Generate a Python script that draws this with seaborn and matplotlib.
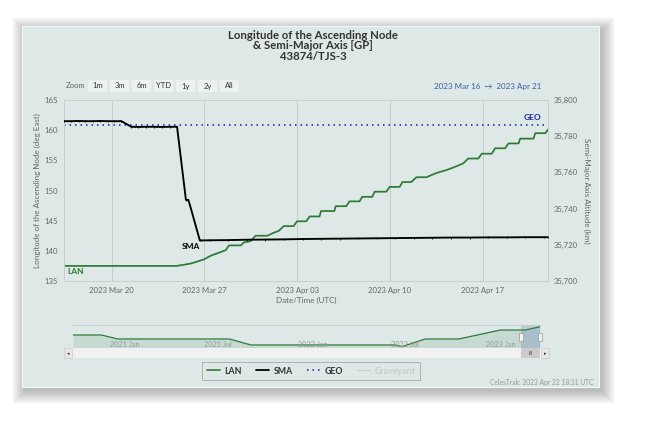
import numpy as np
import pandas as pd
import matplotlib
matplotlib.use("Agg")
import matplotlib.pyplot as plt
import matplotlib.dates as mdates
import matplotlib.transforms as mtransforms
from matplotlib.patches import Rectangle
from matplotlib.lines import Line2D
from matplotlib.ticker import FuncFormatter
import seaborn as sns

sns.set_theme(style="white")
plt.rcParams['font.family'] = ['Lato', 'DejaVu Sans']

# ---------------- data ----------------
start = pd.Timestamp("2023-03-16")

# LAN (deg East), days after 2023-03-16 00:00 UTC
lan_days = [0.4, 8.9, 9.98, 10.7, 10.97, 11.48, 11.85, 12.6, 12.85, 13.73,
            13.98, 14.48, 14.85, 15.73, 16.23, 16.6, 16.98, 17.73, 17.98, 18.68,
            18.93, 19.68, 19.8, 20.8, 20.9, 21.7, 21.94, 22.7, 22.9, 23.66,
            23.84, 24.72, 24.97, 25.73, 25.93, 26.6, 27.0, 27.75, 28.5, 29.27,
            29.77, 30.53, 30.9, 31.67, 31.92, 32.68, 32.93, 33.69, 33.94, 34.7,
            34.82, 35.83, 35.96, 36.72, 36.92]
lan_deg = [137.5, 137.5, 137.9, 138.4, 138.6, 139.2, 139.5, 140.1, 140.9, 140.9,
           141.4, 141.6, 142.5, 142.5, 143.0, 143.3, 144.1, 144.1, 144.9, 144.9,
           145.7, 145.7, 146.6, 146.6, 147.4, 147.4, 148.2, 148.2, 148.95, 148.95,
           149.8, 149.8, 150.6, 150.6, 151.4, 151.4, 152.2, 152.2, 152.9, 153.4,
           153.8, 154.5, 155.3, 155.3, 156.1, 156.1, 157.0, 157.0, 157.8, 157.8,
           158.6, 158.6, 159.5, 159.5, 160.1]

# SMA altitude (km)
sma_days = [0.4, 0.9, 1.5, 2.0, 2.6, 3.1, 3.7, 4.2, 4.73,
            5.48, 6.0, 6.6, 7.2, 7.8, 8.4, 8.93,
            9.6, 9.78, 9.9, 10.65,
            11.4, 12.8, 14.2, 15.6, 17.0, 18.4, 19.8, 21.2, 22.6, 24.0,
            25.4, 26.8, 28.2, 29.6, 31.0, 32.4, 33.8, 35.2, 36.6, 36.92]
sma_km = [35788.3, 35788.3, 35788.4, 35788.3, 35788.3, 35788.4, 35788.3, 35788.3, 35788.3,
          35785.2, 35785.1, 35785.2, 35785.2, 35785.1, 35785.2, 35785.2,
          35744.8, 35744.8, 35742.0, 35722.4,
          35722.5, 35722.6, 35722.8, 35722.9, 35723.0, 35723.2, 35723.3, 35723.4, 35723.5, 35723.6,
          35723.7, 35723.8, 35723.9, 35724.0, 35724.0, 35724.1, 35724.1, 35724.2, 35724.2, 35724.2]

geo_km = 35786
view_days = [0.4, 36.92]

x_ticks = ["2023-03-20", "2023-03-27", "2023-04-03", "2023-04-10", "2023-04-17"]
lan_ticks = [135, 140, 145, 150, 155, 160, 165]
sma_ticks = [35700, 35720, 35740, 35760, 35780, 35800]

# navigator (long term LAN)
nav_dates = ["2020-10-26", "2020-12-20", "2021-01-21", "2021-08-26", "2021-10-07",
             "2022-07-15", "2022-07-27", "2022-09-11", "2022-11-15", "2023-02-04",
             "2023-03-25", "2023-04-22"]
nav_deg = [103.3, 103.3, 75.9, 75.9, 34.8, 34.8, 23.1, 75.9, 75.9, 137.5, 137.5, 160.1]
nav_ticks = ["2021-01-01", "2021-07-01", "2022-01-01", "2022-07-01", "2023-01-01"]
nav_labels = ["2021 Jan", "2021 Jul", "2022 Jan", "2022 Jul", "2023 Jan"]

zoom_buttons = ["1m", "3m", "6m", "YTD", "1y", "2y", "All"]
legend_names = ["LAN", "SMA", "GEO", "Graveyard"]

green = "#2e7a36"
navy = "#1f1f9a"
grey_txt = "#666666"
card_bg = "#dde8e7"

W, H = 645, 429
def fx(px):
    return px / W
def fy(py):
    return 1 - py / H

fig = plt.figure(figsize=(6.45, 4.29), dpi=100)
fig.patch.set_facecolor("white")

# card with soft shadow
for i in range(14):
    fig.patches.append(Rectangle((fx(22 + 3 - i), fy(387 + 4 + i)), (577 + 2 * i) / W, (361 + 2 * i) / H,
                                 transform=fig.transFigure, facecolor="black", edgecolor="none",
                                 alpha=0.02, zorder=-5))
fig.patches.append(Rectangle((fx(22), fy(387)), 577 / W, 361 / H, transform=fig.transFigure,
                             facecolor=card_bg, edgecolor="#f3f7f7", lw=0.8, zorder=-4))

# ---------------- main chart ----------------
ax = fig.add_axes([fx(64), fy(281), (548 - 64) / W, (281 - 100) / H])
ax.set_facecolor("none")

lan_df = pd.DataFrame({"time": start + pd.to_timedelta(lan_days, unit="D"), "deg": lan_deg})
sma_df = pd.DataFrame({"time": start + pd.to_timedelta(sma_days, unit="D"), "km": sma_km})

sns.lineplot(data=lan_df, x="time", y="deg", ax=ax, color=green, lw=1.25,
             estimator=None, sort=False, zorder=3)
ax.set_ylim(135, 165)
ax.set_yticks(lan_ticks)
ax.set_xlim(start + pd.Timedelta(days=view_days[0]), start + pd.Timedelta(days=view_days[1]))
ax.set_xticks(pd.to_datetime(x_ticks))
ax.xaxis.set_major_formatter(mdates.DateFormatter("%Y %b %d"))
ax.grid(axis="x", color="#c3cdcd", lw=0.7)
ax.grid(axis="y", visible=False)

ax2 = ax.twinx()
sns.lineplot(data=sma_df, x="time", y="km", ax=ax2, color="black", lw=1.35,
             marker="|", markersize=1.8, markeredgewidth=0.6, markeredgecolor="black",
             estimator=None, sort=False, zorder=3)
ax2.axhline(geo_km, color=navy, ls=(0, (1, 2.6)), lw=1.1, zorder=2)
ax2.set_ylim(35700, 35800)
ax2.set_yticks(sma_ticks)
ax2.yaxis.set_major_formatter(FuncFormatter(lambda v, p: f"{v:,.0f}"))
ax2.grid(False)

for a in (ax, ax2):
    for s in a.spines.values():
        s.set_color("#c6d0d0")
        s.set_linewidth(0.7)
ax.tick_params(axis="both", length=0, labelsize=5.6, labelcolor=grey_txt)
ax.tick_params(axis="x", pad=4.5)
ax.tick_params(axis="y", pad=4.5)
ax2.tick_params(axis="y", length=0, labelsize=5.6, labelcolor=grey_txt, pad=4)

ax.set_xlabel("Date/Time (UTC)", fontsize=5.8, color=grey_txt, va="center")
ax.xaxis.set_label_coords(0.5, (281 - 300) / 181)
ax.set_ylabel("Longitude of the Ascending Node (deg East)", fontsize=5.8, color=grey_txt, va="center")
ax.yaxis.set_label_coords((37 - 64) / 484, 0.5)
ax2.set_ylabel("Semi-Major Axis Altitude (km)", fontsize=5.8, color=grey_txt, va="center", rotation=270)
ax2.yaxis.set_label_coords((587 - 64) / 484, 0.5)

ax.text(0.262, 0.188, "SMA", transform=ax.transAxes, fontsize=6, fontweight="bold",
        color="black", ha="center", va="center")
ax.text(0.969, 0.906, "GEO", transform=ax.transAxes, fontsize=6, fontweight="bold",
        color=navy, ha="center", va="center")
ax.text(0.008, 0.05, "LAN", transform=ax.transAxes, fontsize=6, fontweight="bold",
        color=green, ha="left", va="center")

# ---------------- title & range selector ----------------
title_lines = ["Longitude of the Ascending Node", "& Semi-Major Axis [GP]", "43874/TJS-3"]
for line, base in zip(title_lines, [38.7, 49.2, 59.8]):
    fig.text(fx(313), fy(base), line, ha="center", va="baseline", fontsize=8.2,
             fontweight="bold", color="#333333")

fig.text(fx(66), fy(86), "Zoom", ha="left", va="center", fontsize=5.5, color=grey_txt)
for i, b in enumerate(zoom_buttons):
    x0 = 88 + 22 * i
    fig.patches.append(Rectangle((fx(x0), fy(92)), 19 / W, 12 / H, transform=fig.transFigure,
                                 facecolor="#ecf2f2", edgecolor="none", zorder=1))
    fig.text(fx(x0 + 9.5), fy(86), b, ha="center", va="center", fontsize=5.5, color="#333333")

fig.text(fx(541), fy(86), "2023 Mar 16  \u2192  2023 Apr 21", ha="right", va="center",
         fontsize=5.8, color="#3a5ea8")

# ---------------- navigator ----------------
nav = fig.add_axes([fx(73), fy(348), (540 - 73) / W, (348 - 325) / H])
nav.set_facecolor("none")
nav_df = pd.DataFrame({"date": pd.to_datetime(nav_dates), "deg": nav_deg})
nav_lo, nav_hi = 14, 172
nav.fill_between(nav_df["date"], nav_df["deg"], nav_lo, color=green, alpha=0.12, lw=0)
sns.lineplot(data=nav_df, x="date", y="deg", ax=nav, color=green, lw=0.9,
             estimator=None, sort=False)
nav.set_xlim(nav_df["date"].iloc[0], nav_df["date"].iloc[-1])
nav.set_ylim(nav_lo, nav_hi)
nav.set_xticks([])
nav.set_yticks([])
nav.set_xlabel("")
nav.set_ylabel("")
for k, s in nav.spines.items():
    s.set_visible(k == "top")
nav.spines["top"].set_color("#c6d0d0")
nav.spines["top"].set_linewidth(0.7)

blend = mtransforms.blended_transform_factory(nav.transData, nav.transAxes)
lab_tr = mtransforms.offset_copy(blend, fig=fig, x=3, y=0, units="dots")
for d, lab in zip(pd.to_datetime(nav_ticks), nav_labels):
    nav.text(d, 0.17, lab, transform=lab_tr, ha="left", va="center", fontsize=5.3,
             color="#999999")

sel0 = start + pd.Timedelta(days=view_days[0])
sel1 = start + pd.Timedelta(days=view_days[1])
nav.axvspan(sel0, sel1, color="#6685c2", alpha=0.3, lw=0)

# scrollbar
nav.add_patch(Rectangle((-0.02, -0.45), 1.04, 0.45, transform=nav.transAxes,
                        facecolor="#f0f2f2", edgecolor="none", clip_on=False))
nav.add_patch(Rectangle((-0.019, -0.43), 0.017, 0.41, transform=nav.transAxes,
                        facecolor="#e6e8e8", edgecolor="#cccccc", lw=0.5, clip_on=False))
nav.add_patch(Rectangle((1.003, -0.43), 0.017, 0.41, transform=nav.transAxes,
                        facecolor="#e6e8e8", edgecolor="#cccccc", lw=0.5, clip_on=False))
nav.text(-0.0105, -0.225, "\u25c2", transform=nav.transAxes, ha="center", va="center",
         fontsize=3.5, color="#333333", clip_on=False)
nav.text(1.0115, -0.225, "\u25b8", transform=nav.transAxes, ha="center", va="center",
         fontsize=3.5, color="#333333", clip_on=False)
s0, s1 = mdates.date2num(sel0), mdates.date2num(sel1)
nav.add_patch(Rectangle((s0, -0.45), s1 - s0, 0.45, transform=blend,
                        facecolor="#cccccc", edgecolor="none", clip_on=False))
nav.text(mdates.date2num(sel0 + (sel1 - sel0) / 2), -0.225, "III", transform=blend,
         ha="center", va="center", fontsize=3.5, color="#333333", clip_on=False)
for sx in (s0, s1):
    nav.add_patch(Rectangle((sx - 4, 0.3), 8, 0.36, transform=blend, facecolor="#f2f2f2",
                            edgecolor="#999999", lw=0.5, clip_on=False, zorder=5))

# ---------------- legend & credits ----------------
handles = [Line2D([], [], color=green, lw=1.2),
           Line2D([], [], color="black", lw=1.3),
           Line2D([], [], color=navy, lw=1.1, ls=(0, (1, 2.6))),
           Line2D([], [], color="#cccccc", lw=0.8)]
leg = fig.legend(handles, legend_names, loc="center", bbox_to_anchor=(fx(311), fy(371)),
                 ncol=4, frameon=True, fancybox=False, handlelength=1.5, handletextpad=0.5,
                 columnspacing=1.6, borderpad=0.55, prop={"weight": "bold", "size": 6.3})
leg.get_frame().set_edgecolor("#999999")
leg.get_frame().set_facecolor("none")
leg.get_frame().set_linewidth(0.6)
for t, c in zip(leg.get_texts(), ["#333333", "#333333", "#333333", "#cccccc"]):
    t.set_color(c)

fig.text(fx(593), fy(383), "CelesTrak: 2023 Apr 22 18:31 UTC", ha="right", va="center",
         fontsize=4.8, color="#999999")

fig.savefig("out.png", dpi=100, facecolor="white")
